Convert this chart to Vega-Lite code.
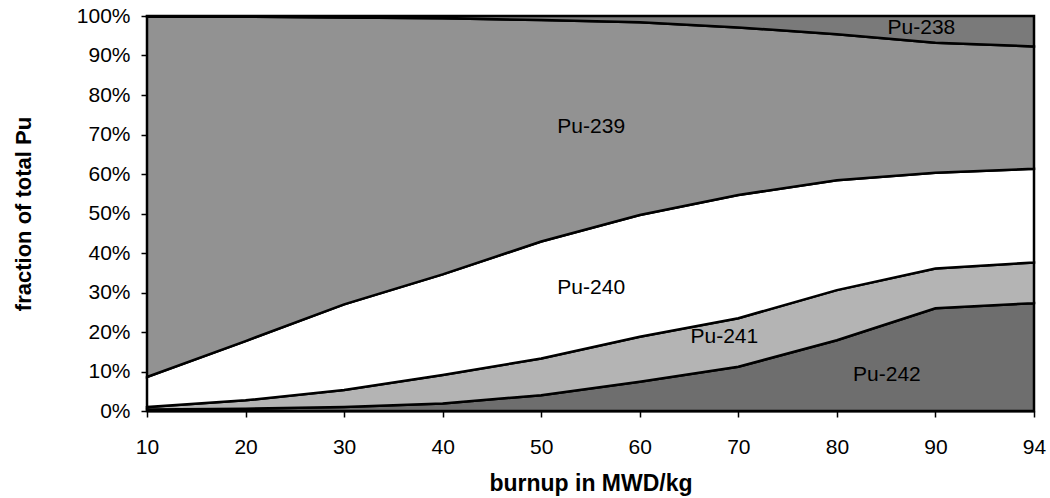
{
  "$schema": "https://vega.github.io/schema/vega-lite/v6.json",
  "width": 887,
  "height": 395,
  "autosize": {"type": "none"},
  "padding": {"left": 147, "top": 16, "right": 16, "bottom": 87},
  "background": "white",
  "config": {
    "view": {"stroke": "black", "strokeWidth": 2},
    "font": "Liberation Sans",
    "axis": {
      "grid": false,
      "domainColor": "black",
      "tickColor": "black",
      "labelColor": "black",
      "titleColor": "black",
      "labelFont": "Liberation Sans",
      "titleFont": "Liberation Sans",
      "labelFontSize": 21,
      "titleFontWeight": "bold",
      "labelOverlap": false
    },
    "axisX": {"labelAngle": 0, "tickSize": 6, "tickWidth": 1.5, "labelPadding": 19, "titlePadding": 15, "domainWidth": 2, "titleFontSize": 23},
    "axisY": {"tickSize": 6, "tickWidth": 1.5, "labelPadding": 11, "titlePadding": 41, "domainWidth": 3, "titleFontSize": 22}
  },
  "datasets": {
    "pu": [
      {"burnup": 10, "isotope": "Pu-242", "fraction": 0.004},
      {"burnup": 20, "isotope": "Pu-242", "fraction": 0.006},
      {"burnup": 30, "isotope": "Pu-242", "fraction": 0.010},
      {"burnup": 40, "isotope": "Pu-242", "fraction": 0.019},
      {"burnup": 50, "isotope": "Pu-242", "fraction": 0.040},
      {"burnup": 60, "isotope": "Pu-242", "fraction": 0.074},
      {"burnup": 70, "isotope": "Pu-242", "fraction": 0.112},
      {"burnup": 80, "isotope": "Pu-242", "fraction": 0.179},
      {"burnup": 90, "isotope": "Pu-242", "fraction": 0.260},
      {"burnup": 94, "isotope": "Pu-242", "fraction": 0.273},
      {"burnup": 10, "isotope": "Pu-241", "fraction": 0.006},
      {"burnup": 20, "isotope": "Pu-241", "fraction": 0.021},
      {"burnup": 30, "isotope": "Pu-241", "fraction": 0.043},
      {"burnup": 40, "isotope": "Pu-241", "fraction": 0.072},
      {"burnup": 50, "isotope": "Pu-241", "fraction": 0.093},
      {"burnup": 60, "isotope": "Pu-241", "fraction": 0.114},
      {"burnup": 70, "isotope": "Pu-241", "fraction": 0.123},
      {"burnup": 80, "isotope": "Pu-241", "fraction": 0.127},
      {"burnup": 90, "isotope": "Pu-241", "fraction": 0.101},
      {"burnup": 94, "isotope": "Pu-241", "fraction": 0.103},
      {"burnup": 10, "isotope": "Pu-240", "fraction": 0.076},
      {"burnup": 20, "isotope": "Pu-240", "fraction": 0.150},
      {"burnup": 30, "isotope": "Pu-240", "fraction": 0.217},
      {"burnup": 40, "isotope": "Pu-240", "fraction": 0.255},
      {"burnup": 50, "isotope": "Pu-240", "fraction": 0.296},
      {"burnup": 60, "isotope": "Pu-240", "fraction": 0.308},
      {"burnup": 70, "isotope": "Pu-240", "fraction": 0.312},
      {"burnup": 80, "isotope": "Pu-240", "fraction": 0.278},
      {"burnup": 90, "isotope": "Pu-240", "fraction": 0.242},
      {"burnup": 94, "isotope": "Pu-240", "fraction": 0.237},
      {"burnup": 10, "isotope": "Pu-239", "fraction": 0.913},
      {"burnup": 20, "isotope": "Pu-239", "fraction": 0.821},
      {"burnup": 30, "isotope": "Pu-239", "fraction": 0.726},
      {"burnup": 40, "isotope": "Pu-239", "fraction": 0.648},
      {"burnup": 50, "isotope": "Pu-239", "fraction": 0.561},
      {"burnup": 60, "isotope": "Pu-239", "fraction": 0.488},
      {"burnup": 70, "isotope": "Pu-239", "fraction": 0.424},
      {"burnup": 80, "isotope": "Pu-239", "fraction": 0.370},
      {"burnup": 90, "isotope": "Pu-239", "fraction": 0.329},
      {"burnup": 94, "isotope": "Pu-239", "fraction": 0.310},
      {"burnup": 10, "isotope": "Pu-238", "fraction": 0.001},
      {"burnup": 20, "isotope": "Pu-238", "fraction": 0.002},
      {"burnup": 30, "isotope": "Pu-238", "fraction": 0.004},
      {"burnup": 40, "isotope": "Pu-238", "fraction": 0.006},
      {"burnup": 50, "isotope": "Pu-238", "fraction": 0.010},
      {"burnup": 60, "isotope": "Pu-238", "fraction": 0.016},
      {"burnup": 70, "isotope": "Pu-238", "fraction": 0.029},
      {"burnup": 80, "isotope": "Pu-238", "fraction": 0.046},
      {"burnup": 90, "isotope": "Pu-238", "fraction": 0.068},
      {"burnup": 94, "isotope": "Pu-238", "fraction": 0.077}
    ],
    "labelsA": [
      {"label": "Pu-239", "burnup": 50, "fraction": 0.72},
      {"label": "Pu-240", "burnup": 50, "fraction": 0.311},
      {"label": "Pu-242", "burnup": 80, "fraction": 0.091}
    ],
    "labelsB": [
      {"label": "Pu-241", "burnup": 70, "fraction": 0.187},
      {"label": "Pu-238", "burnup": 90, "fraction": 0.97}
    ]
  },
  "layer": [
    {
      "data": {"name": "pu"},
      "mark": {"type": "area", "stroke": "black", "strokeWidth": 2.5, "interpolate": "linear", "opacity": 1},
      "encoding": {
        "x": {
          "field": "burnup", "type": "ordinal",
          "scale": {"type": "point", "padding": 0},
          "axis": {"title": "burnup in MWD/kg"}
        },
        "y": {
          "field": "fraction", "type": "quantitative", "stack": "zero",
          "scale": {"domain": [0, 1], "nice": false},
          "axis": {"title": "fraction of total Pu", "format": ".0%", "values": [0, 0.1, 0.2, 0.3, 0.4, 0.5, 0.6, 0.7, 0.8, 0.9, 1]}
        },
        "color": {
          "field": "isotope", "type": "nominal",
          "scale": {"domain": ["Pu-238", "Pu-239", "Pu-240", "Pu-241", "Pu-242"], "range": ["#7a7a7a", "#929292", "#ffffff", "#b4b4b4", "#6e6e6e"]},
          "legend": null
        },
        "order": {"field": "isotope", "sort": "descending"}
      }
    },
    {
      "data": {"name": "labelsA"},
      "mark": {"type": "text", "dx": 50, "fontSize": 21, "font": "Liberation Sans", "color": "black", "align": "center", "baseline": "middle"},
      "encoding": {
        "x": {"field": "burnup", "type": "ordinal", "axis": {"title": "burnup in MWD/kg"}},
        "y": {"field": "fraction", "type": "quantitative", "axis": {"title": "fraction of total Pu", "format": ".0%", "values": [0, 0.1, 0.2, 0.3, 0.4, 0.5, 0.6, 0.7, 0.8, 0.9, 1]}},
        "text": {"field": "label"}
      }
    },
    {
      "data": {"name": "labelsB"},
      "mark": {"type": "text", "dx": -14, "fontSize": 21, "font": "Liberation Sans", "color": "black", "align": "center", "baseline": "middle"},
      "encoding": {
        "x": {"field": "burnup", "type": "ordinal", "axis": {"title": "burnup in MWD/kg"}},
        "y": {"field": "fraction", "type": "quantitative", "axis": {"title": "fraction of total Pu", "format": ".0%", "values": [0, 0.1, 0.2, 0.3, 0.4, 0.5, 0.6, 0.7, 0.8, 0.9, 1]}},
        "text": {"field": "label"}
      }
    }
  ]
}
